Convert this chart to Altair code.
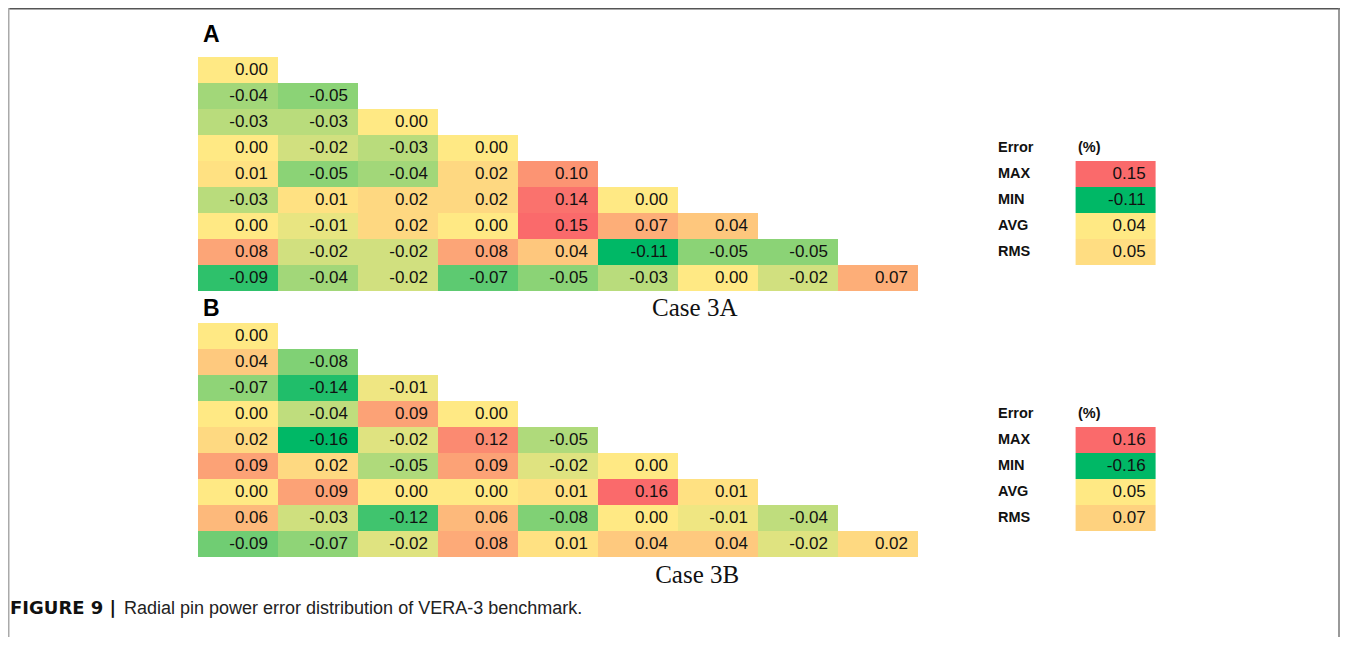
import altair as alt
import pandas as pd
import numpy as np

# ---------------- data ----------------
CASE_3A = [
    [0.00],
    [-0.04, -0.05],
    [-0.03, -0.03, 0.00],
    [0.00, -0.02, -0.03, 0.00],
    [0.01, -0.05, -0.04, 0.02, 0.10],
    [-0.03, 0.01, 0.02, 0.02, 0.14, 0.00],
    [0.00, -0.01, 0.02, 0.00, 0.15, 0.07, 0.04],
    [0.08, -0.02, -0.02, 0.08, 0.04, -0.11, -0.05, -0.05],
    [-0.09, -0.04, -0.02, -0.07, -0.05, -0.03, 0.00, -0.02, 0.07],
]
CASE_3B = [
    [0.00],
    [0.04, -0.08],
    [-0.07, -0.14, -0.01],
    [0.00, -0.04, 0.09, 0.00],
    [0.02, -0.16, -0.02, 0.12, -0.05],
    [0.09, 0.02, -0.05, 0.09, -0.02, 0.00],
    [0.00, 0.09, 0.00, 0.00, 0.01, 0.16, 0.01],
    [0.06, -0.03, -0.12, 0.06, -0.08, 0.00, -0.01, -0.04],
    [-0.09, -0.07, -0.02, 0.08, 0.01, 0.04, 0.04, -0.02, 0.02],
]
STAT_NAMES = ["MAX", "MIN", "AVG", "RMS"]
STATS_3A = [0.15, -0.11, 0.04, 0.05]
STATS_3B = [0.16, -0.16, 0.05, 0.07]
PANEL_LABELS = ["A", "B"]
CASE_TITLES = ["Case 3A", "Case 3B"]
TABLE_HEADER = ["Error", "(%)"]
CAPTION_BOLD = "FIGURE 9 |"
CAPTION_TEXT = "Radial pin power error distribution of VERA-3 benchmark."

# ---------------- layout / style ----------------
W, H = 1332, 629
COL_W, ROW_H = 80, 26
X0 = 190                      # px of column 0
OFF_A, OFF_B = 49 / ROW_H, 315 / ROW_H
GREEN, YELLOW, RED = "#00B866", "#FFE984", "#FA6A6B"
SANS = "Liberation Sans, Arial, sans-serif"
NARROW = "Liberation Sans Narrow, Liberation Sans, Arial, sans-serif"
SERIF = "Liberation Serif, Times New Roman, serif"
WIDEBOLD = "DejaVu Sans, Liberation Sans, sans-serif"

xs = alt.Scale(domain=[-X0 / COL_W, (W - X0) / COL_W], nice=False, zero=False)
ys = alt.Scale(domain=[0, H / ROW_H], nice=False, zero=False, reverse=True)


def grid_df(values, offset):
    recs = []
    for r, row in enumerate(values):
        for c, v in enumerate(row):
            recs.append(dict(col=c, col2=c + 1, top=offset + r, bot=offset + r + 1,
                             mid=offset + r + 0.5, value=v, label=f"{v:.2f}"))
    return pd.DataFrame(recs)


def table_df(values, offset):
    recs = []
    for i, (n, v) in enumerate(zip(STAT_NAMES, values)):
        r = 4 + i
        recs.append(dict(name=n, lx=10.0, col=10.97, col2=11.97, top=offset + r,
                         bot=offset + r + 1, mid=offset + r + 0.5, value=v, label=f"{v:.2f}"))
    return pd.DataFrame(recs)


def rect_layer(df, domain):
    return alt.Chart(df).mark_rect(strokeWidth=0).encode(
        x=alt.X("col:Q", scale=xs, axis=None),
        x2="col2:Q",
        y=alt.Y("top:Q", scale=ys, axis=None),
        y2="bot:Q",
        color=alt.Color("value:Q", legend=None,
                        scale=alt.Scale(domain=domain, range=[GREEN, YELLOW, RED],
                                        interpolate="rgb")),
    )


def value_text(df):
    return alt.Chart(df).mark_text(align="right", baseline="middle", dx=-10,
                                   font=SANS, fontSize=17, color="#111").encode(
        x=alt.X("col2:Q", scale=xs, axis=None),
        y=alt.Y("mid:Q", scale=ys, axis=None),
        text="label:N",
    )


layers = []
for vals, stats, off in [(CASE_3A, STATS_3A, OFF_A), (CASE_3B, STATS_3B, OFF_B)]:
    g = grid_df(vals, off)
    flat = [v for row in vals for v in row]
    layers.append(rect_layer(g, [min(flat), 0, max(flat)]))
    layers.append(value_text(g))
    t = table_df(stats, off)
    mid = float(np.percentile(stats, 50, method="lower"))
    layers.append(rect_layer(t, [min(stats), mid, max(stats)]))
    layers.append(value_text(t))
    # stat names
    layers.append(alt.Chart(t).mark_text(align="left", baseline="middle", font=NARROW,
                                         fontSize=14.5, fontWeight="bold", color="#111").encode(
        x=alt.X("lx:Q", scale=xs, axis=None), y=alt.Y("mid:Q", scale=ys, axis=None), text="name:N"))
    hdr = pd.DataFrame({"x": [10.0, 11.0], "y": [off + 3.5, off + 3.5], "t": TABLE_HEADER})
    layers.append(alt.Chart(hdr).mark_text(align="left", baseline="middle", font=NARROW,
                                           fontSize=14.5, fontWeight="bold", color="#111").encode(
        x=alt.X("x:Q", scale=xs, axis=None), y=alt.Y("y:Q", scale=ys, axis=None), text="t:N"))

# panel letters
letters = pd.DataFrame({"x": [0.0, 0.0], "y": [OFF_A - 0.865, OFF_B - 0.54], "t": PANEL_LABELS})
layers.append(alt.Chart(letters).mark_text(align="left", baseline="middle", dx=5, font=SANS,
                                           fontSize=23, fontWeight="bold", color="#000").encode(
    x=alt.X("x:Q", scale=xs, axis=None), y=alt.Y("y:Q", scale=ys, axis=None), text="t:N"))

# case titles
cases = pd.DataFrame({"x": [6.21, 6.24], "y": [OFF_A + 9.64, OFF_B + 9.71], "t": CASE_TITLES})
layers.append(alt.Chart(cases).mark_text(align="center", baseline="middle", font=SERIF,
                                         fontSize=25, color="#111").encode(
    x=alt.X("x:Q", scale=xs, axis=None), y=alt.Y("y:Q", scale=ys, axis=None), text="t:N"))

# caption
cap_y = 601 / ROW_H
cap_x = (2 - X0) / COL_W
cap_b = pd.DataFrame({"x": [cap_x], "y": [cap_y], "t": [CAPTION_BOLD]})
cap_r = pd.DataFrame({"x": [cap_x], "y": [cap_y], "t": [CAPTION_TEXT]})
layers.append(alt.Chart(cap_b).mark_text(align="left", baseline="middle", font=WIDEBOLD,
                                         fontSize=18, fontWeight="bold", color="#111").encode(
    x=alt.X("x:Q", scale=xs, axis=None), y=alt.Y("y:Q", scale=ys, axis=None), text="t:N"))
layers.append(alt.Chart(cap_r).mark_text(align="left", baseline="middle", dx=114, font=SANS,
                                         fontSize=18, color="#222").encode(
    x=alt.X("x:Q", scale=xs, axis=None), y=alt.Y("y:Q", scale=ys, axis=None), text="t:N"))

# frame lines (top, left, right)
dummy = pd.DataFrame({"a": [0]})
layers.append(alt.Chart(dummy).mark_rule(color="#555", strokeWidth=1.5).encode(
    x=alt.value(0), x2=alt.value(W), y=alt.value(0.75)))
layers.append(alt.Chart(dummy).mark_rule(color="#aaa", strokeWidth=1.5).encode(
    x=alt.value(0.75), y=alt.value(0), y2=alt.value(H)))
layers.append(alt.Chart(dummy).mark_rule(color="#777", strokeWidth=1.5).encode(
    x=alt.value(W - 1), y=alt.value(0), y2=alt.value(H)))

chart = alt.layer(*layers).resolve_scale(color="independent").properties(
    width=W, height=H, autosize=alt.AutoSizeParams(type="none"), padding=0
).configure_view(stroke=None)

chart.save("out.html", embed_options={"renderer": "svg", "actions": False})
